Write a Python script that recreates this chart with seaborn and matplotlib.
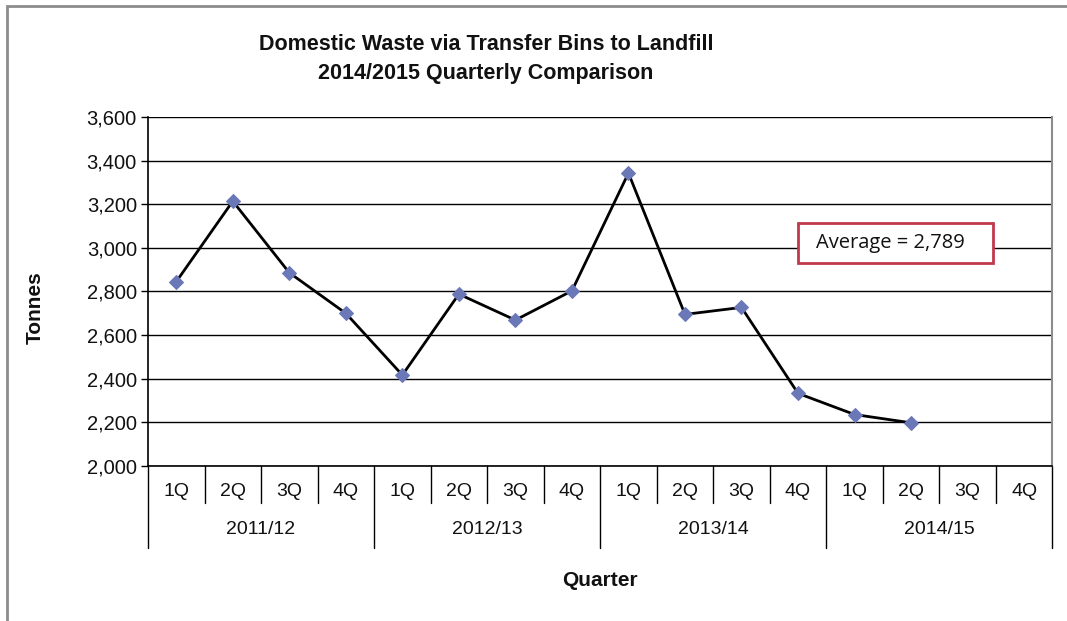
import pandas as pd
import seaborn as sns
import matplotlib.pyplot as plt
from matplotlib.patches import Rectangle
import matplotlib.transforms as mtransforms

# quarterly tonnes (14 of 16 quarters reported)
years = ["2011/12", "2012/13", "2013/14", "2014/15"]
quarters = ["1Q", "2Q", "3Q", "4Q"]
tonnes = [2845, 3214, 2886, 2700, 2417, 2788, 2669, 2803,
          3343, 2695, 2727, 2333, 2236, 2198]
y_ticks = [2000, 2200, 2400, 2600, 2800, 3000, 3200, 3400, 3600]
average_text = "Average = 2,789"

labels = [q for y in years for q in quarters]
df = pd.DataFrame({"pos": range(len(tonnes)), "tonnes": tonnes})

sns.set_theme(style="white")
plt.rcParams["font.family"] = ["Liberation Sans", "DejaVu Sans"]
plt.rcParams["text.color"] = "#111111"
plt.rcParams["ytick.labelcolor"] = "#111111"

fig = plt.figure(figsize=(10.67, 6.21), dpi=100)
ax = fig.add_axes([0.1387, 0.2496, 0.8476, 0.562])

# outer chart frame
fig.patches.append(Rectangle((7 / 1067, -0.1), 1.2, 0.1 + (621 - 6) / 621,
                             transform=fig.transFigure, fill=False,
                             edgecolor="#8c8c8c", linewidth=2))

for t in y_ticks:
    ax.axhline(t, color="black", linewidth=1.0, zorder=1)

sns.lineplot(data=df, x="pos", y="tonnes", color="black", linewidth=2,
             marker="D", markersize=7.5, markerfacecolor="#6b78b8",
             markeredgecolor="#6b78b8", ax=ax, zorder=3)

ax.set_xlim(-0.5, 15.5)
ax.set_ylim(2000, 3600)
ax.set_yticks(y_ticks)
ax.set_yticklabels([f"{t:,}" for t in y_ticks], fontsize=14.5)
ax.tick_params(axis="y", length=5, width=1, color="black", left=True, pad=3)
ax.set_xticks([])

for side in ["left", "bottom"]:
    ax.spines[side].set_color("black")
    ax.spines[side].set_linewidth(1.2)
ax.spines["top"].set_visible(False)
ax.spines["right"].set_color("#8c8c8c")
ax.spines["right"].set_linewidth(1.5)

# two-level category axis
trans = mtransforms.blended_transform_factory(ax.transData, ax.transAxes)
px = 1 / 349  # axes fraction per pixel in height
for i, lab in enumerate(labels):
    ax.text(i, -26 * px, lab, transform=trans, ha="center", va="center",
            fontsize=14)
for j, yr in enumerate(years):
    ax.text(j * 4 + 1.5, -64 * px, yr, transform=trans, ha="center",
            va="center", fontsize=14)
for k in range(len(labels) + 1):
    low = -82 * px if k % 4 == 0 else -37 * px
    ax.plot([k - 0.5, k - 0.5], [0, low], transform=trans, color="black",
            linewidth=1, clip_on=False)

ax.set_xlabel("")
ax.set_ylabel("")
fig.text(35 / 1067, 1 - 308 / 621, "Tonnes", rotation=90, ha="center",
         va="center", fontsize=15, fontweight="bold")
fig.text(600 / 1067, 1 - 580 / 621, "Quarter", ha="center", va="center",
         fontsize=15, fontweight="bold")
fig.text(486 / 1067, 1 - 45 / 621, "Domestic Waste via Transfer Bins to Landfill",
         ha="center", va="center", fontsize=15.5, fontweight="bold")
fig.text(486 / 1067, 1 - 73 / 621, "2014/2015 Quarterly Comparison",
         ha="center", va="center", fontsize=15.5, fontweight="bold")

# average annotation box
ax.add_patch(Rectangle((650 / 904, 203 / 349), 195 / 904, 40 / 349,
                       transform=ax.transAxes, facecolor="white",
                       edgecolor="#c0394b", linewidth=2, zorder=5))
ax.text(742 / 904, 223 / 349, average_text, transform=ax.transAxes,
        ha="center", va="center", fontsize=14.5,
        family=["Open Sans", "DejaVu Sans"], zorder=6)

fig.savefig("out.png", dpi=100)
